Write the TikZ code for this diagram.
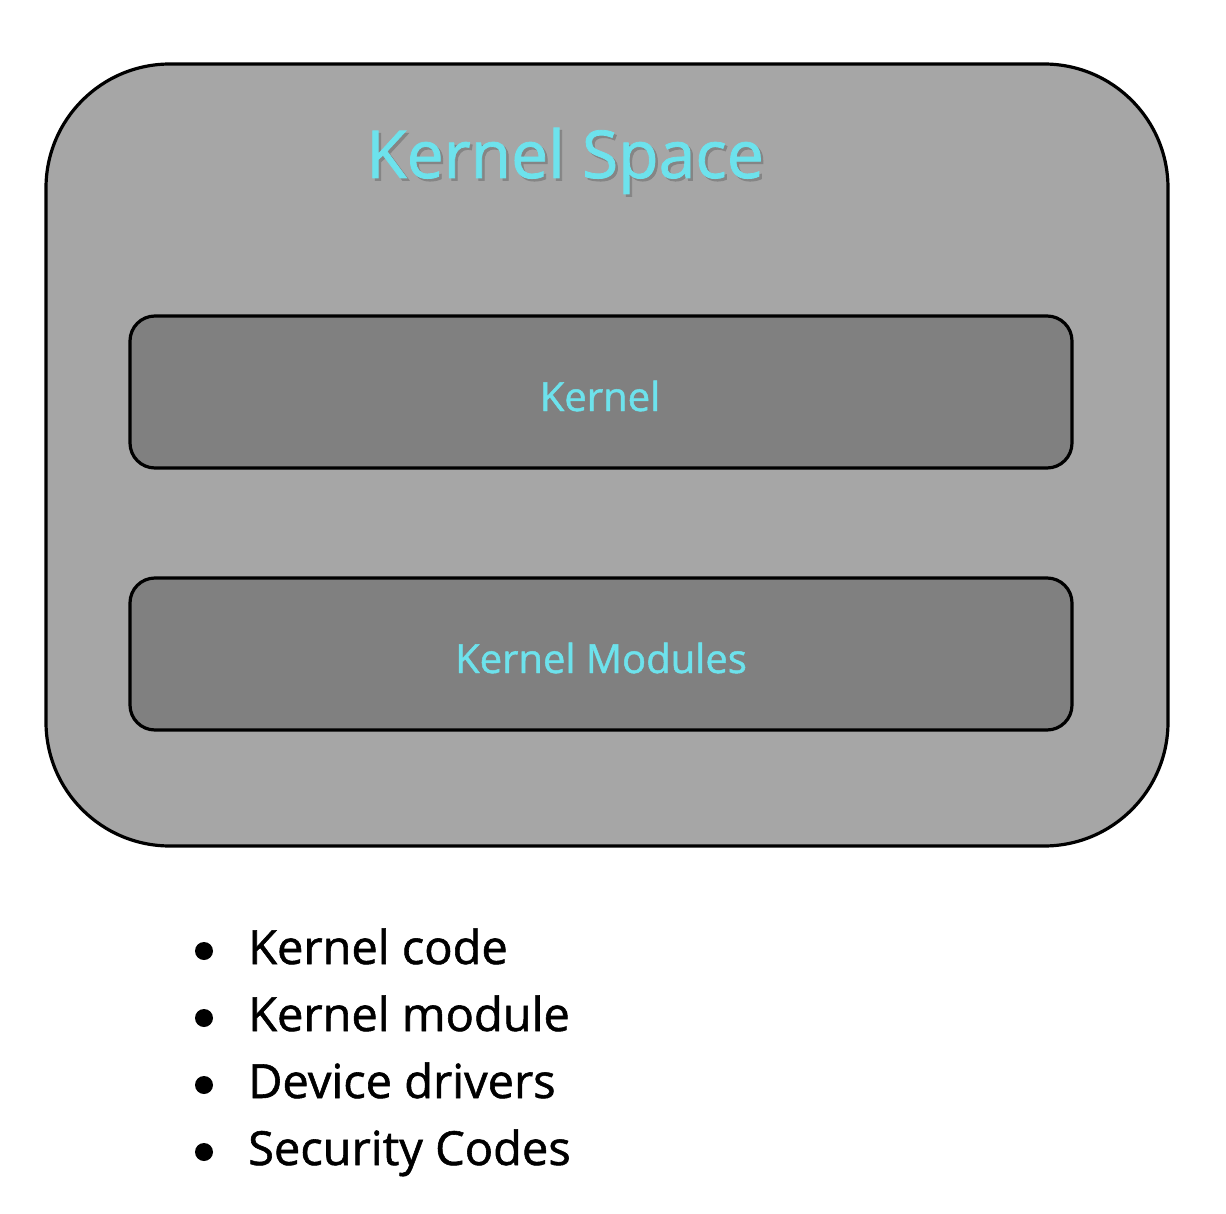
\documentclass[tikz,border=0pt]{standalone}
\usepackage{fontspec}
\setmainfont{Open Sans}[FakeBold=1.2]
\definecolor{outerfill}{HTML}{A6A6A6}
\definecolor{innerfill}{HTML}{808080}
\definecolor{cyantext}{HTML}{6DE2EC}
\definecolor{shadowgray}{HTML}{858585}
\newcommand{\shadowtext}[1]{\makebox[0pt][l]{\kern2.5pt\raisebox{-2.5pt}{\textcolor{shadowgray}{#1}}}#1}
\begin{document}
\begin{tikzpicture}[x=1pt,y=-1pt,
  outerbox/.style={draw=black,line width=3.2pt,fill=outerfill,rounded corners=124pt},
  innerbox/.style={draw=black,line width=3.2pt,fill=innerfill,rounded corners=25pt},
  boxlabel/.style={text=cyantext,font=\fontsize{40}{46}\selectfont,inner sep=0pt},
  titlelabel/.style={text=cyantext,font=\fontsize{66}{76}\selectfont,inner sep=0pt},
  itemtext/.style={text=black,font=\fontsize{47}{56}\selectfont,inner sep=0pt,anchor=base west},
  bulletdot/.style={circle,fill=black,inner sep=0pt,minimum size=18pt}]
\useasboundingbox (0,0) rectangle (1226,1214);
\draw[outerbox] (46,64) rectangle (1168,846);
\node[titlelabel,anchor=base] (title) at (565,178) {\shadowtext{Kernel Space}};
\draw[innerbox] (130,316) rectangle (1072,468);
\node[boxlabel,anchor=base] (kernel) at (600,411) {Kernel};
\draw[innerbox] (130,578) rectangle (1072,730);
\node[boxlabel,anchor=base] (modules) at (601,673) {Kernel Modules};
\node[bulletdot] (b1) at (204,951) {};
\node[itemtext] (t1) at (248,964) {Kernel code};
\node[bulletdot] (b2) at (204,1018) {};
\node[itemtext] (t2) at (248,1031) {Kernel module};
\node[bulletdot] (b3) at (204,1085) {};
\node[itemtext] (t3) at (248,1098) {Device drivers};
\node[bulletdot] (b4) at (204,1152) {};
\node[itemtext] (t4) at (248,1165) {Security Codes};
\end{tikzpicture}
\end{document}
